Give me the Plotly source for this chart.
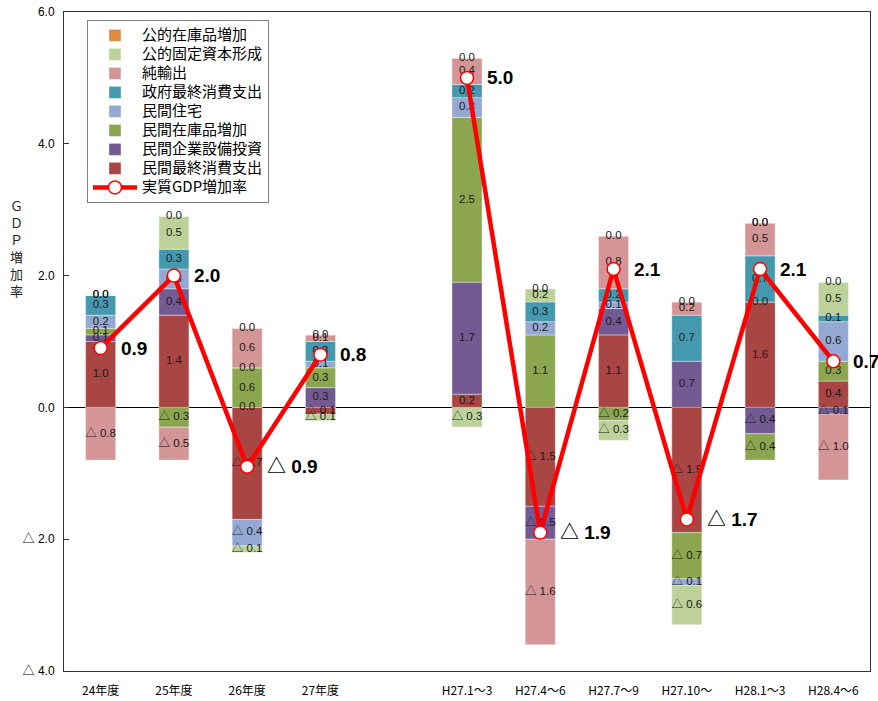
import plotly.graph_objects as go

categories = ["24年度", "25年度", "26年度", "27年度", "", "H27.1～3", "H27.4～6",
              "H27.7～9", "H27.10～", "H28.1～3", "H28.4～6"]

series_names = ["民間最終消費支出", "民間企業設備投資", "民間在庫品増加", "民間住宅",
                "政府最終消費支出", "純輸出", "公的固定資本形成", "公的在庫品増加"]

private_consumption = [1.0, 1.4, -1.7, -0.1, None, 0.2, -1.5, 1.1, -1.9, 1.6, 0.4]
private_investment = [0.1, 0.4, 0.0, 0.3, None, 1.7, -0.5, 0.4, 0.7, -0.4, -0.1]
private_inventory = [0.1, -0.3, 0.6, 0.3, None, 2.5, 1.1, -0.2, -0.7, -0.4, 0.3]
private_housing = [0.2, 0.3, -0.4, 0.1, None, 0.3, 0.2, 0.1, -0.1, 0.0, 0.6]
government_consumption = [0.3, 0.3, 0.0, 0.3, None, 0.2, 0.3, 0.2, 0.7, 0.7, 0.1]
net_exports = [-0.8, -0.5, 0.6, 0.1, None, 0.4, -1.6, 0.8, 0.2, 0.5, -1.0]
public_investment = [0.0, 0.5, -0.1, -0.1, None, -0.3, 0.2, -0.3, -0.6, 0.0, 0.5]
public_inventory = [0.0, 0.0, 0.0, 0.0, None, 0.0, 0.0, 0.0, 0.0, 0.0, 0.0]

gdp_growth = [0.9, 2.0, -0.9, 0.8, None, 5.0, -1.9, 2.1, -1.7, 2.1, 0.7]

y_tick_values = [6, 4, 2, 0, -2, -4]
y_tick_labels = ["6.0", "4.0", "2.0", "0.0", "△ 2.0", "△ 4.0"]

series_values = [private_consumption, private_investment, private_inventory, private_housing,
                 government_consumption, net_exports, public_investment, public_inventory]
colors = ["#A94543", "#735A93", "#8CA64F", "#93A9D3", "#4599AF", "#D49596", "#BDD29B", "#E08A3F"]

LEGEND_SPAN = '<span style="font-size:15px">{}</span>'


def fmt(v):
    if v is None:
        return ""
    return f"△ {abs(v):.1f}" if v < 0 else f"{v:.1f}"


x = list(range(len(categories)))
fig = go.Figure()

for i, (name, vals) in enumerate(zip(series_names, series_values)):
    fig.add_trace(go.Bar(
        x=x, y=vals, name=LEGEND_SPAN.format(name), width=0.41,
        marker=dict(color=colors[i], line=dict(color="rgba(255,255,255,0.6)", width=0.6)),
        legendrank=len(series_names) - i,
        hoverinfo="skip",
    ))

# label positions: centre of each stacked segment
pos_cum = [0.0] * len(x)
neg_cum = [0.0] * len(x)
for i, vals in enumerate(series_values):
    ys, ts, xs = [], [], []
    for j, v in enumerate(vals):
        if v is None:
            continue
        if v >= 0:
            c = pos_cum[j] + v / 2
            pos_cum[j] += v
        else:
            c = neg_cum[j] + v / 2
            neg_cum[j] += v
        xs.append(j)
        ys.append(c)
        ts.append(fmt(v))
    fig.add_trace(go.Scatter(
        x=xs, y=ys, text=ts, mode="text", showlegend=False, hoverinfo="skip",
        textfont=dict(family="Liberation Sans, Noto Sans CJK JP", size=11.5, color="#1a1a1a"),
    ))

fig.add_trace(go.Scatter(
    x=x, y=gdp_growth, name=LEGEND_SPAN.format("実質GDP増加率"), mode="lines+markers",
    line=dict(color="#FF0000", width=4.5),
    marker=dict(symbol="circle", size=13, color="white", line=dict(color="#FF0000", width=1.5)),
    connectgaps=False, legendrank=9,
))

for j, v in enumerate(gdp_growth):
    if v is None:
        continue
    fig.add_annotation(
        x=j, y=v, text=f"<b>{fmt(v)}</b>", showarrow=False, xanchor="left", xshift=18,
        font=dict(family="Liberation Sans, Noto Sans CJK JP", size=19, color="black"),
    )

fig.add_annotation(
    xref="paper", yref="paper", x=-0.070, y=0.642, showarrow=False,
    text="Ｇ<br>Ｄ<br>Ｐ<br>増<br>加<br>率",
    font=dict(family="Noto Sans CJK JP", size=13, color="#222"),
)

fig.update_layout(
    width=878, height=701,
    margin=dict(l=64, r=8, t=12, b=30),
    paper_bgcolor="white", plot_bgcolor="white",
    barmode="relative",
    showlegend=True,
    legend=dict(
        x=0.0285, y=0.988, xanchor="left", yanchor="top",
        bgcolor="white", bordercolor="#808080", borderwidth=1,
        font=dict(family="Noto Sans CJK JP", size=11, color="black"),
        tracegroupgap=0, itemwidth=44,
    ),
    xaxis=dict(
        range=[-0.5, len(x) - 0.5], tickvals=x, ticktext=categories,
        showgrid=False, zeroline=False, showline=True, mirror=True,
        linecolor="#333", linewidth=1, ticks="", automargin=False,
        tickfont=dict(family="Liberation Sans Narrow, Noto Sans CJK JP", size=12, color="black"),
        ticklabelstandoff=9, ticklabeloverflow="allow",
    ),
    xaxis2=dict(
        overlaying="x", anchor="free", position=0.4, side="bottom",
        range=[-0.5, len(x) - 0.5], tickvals=[k + 0.5 for k in x[:-1]],
        showticklabels=False, showgrid=False, zeroline=False, showline=False,
        ticks="inside", ticklen=5, tickcolor="#888", automargin=False,
    ),
    yaxis=dict(
        range=[-4, 6], tickvals=y_tick_values, ticktext=y_tick_labels,
        showgrid=False, zeroline=True, zerolinecolor="black", zerolinewidth=1,
        showline=True, mirror=True, linecolor="#333", linewidth=1,
        ticks="inside", ticklen=5, tickcolor="#333", automargin=False,
        tickfont=dict(family="Liberation Sans, Noto Sans CJK JP", size=12, color="black"),
        ticklabelstandoff=6, ticklabeloverflow="allow",
    ),
)

fig.write_html("out.html", config={"displayModeBar": False},
               post_script="document.body.style.margin='0';")
